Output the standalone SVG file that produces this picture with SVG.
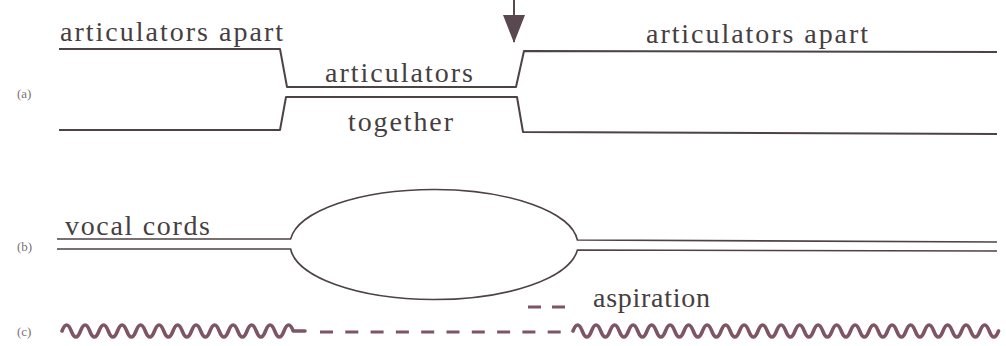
<svg xmlns="http://www.w3.org/2000/svg" width="1006" height="346" viewBox="0 0 1006 346">
  <style>
    .lbl { font-family: "Liberation Serif", "Times New Roman", serif; font-size: 28px; fill: #463e41; }
    .tag { font-family: "Liberation Serif", "Times New Roman", serif; font-size: 13px; fill: #7a7274; }
    .art { fill: none; stroke: #4d4244; stroke-width: 2; stroke-linejoin: round; }
    .cord { fill: none; stroke: #4d4244; stroke-width: 1.6; }
    .wave { fill: none; stroke: #7e5562; stroke-width: 3.6; stroke-linecap: round; stroke-linejoin: round; }
    .dash { fill: none; stroke: #7e5562; stroke-width: 3; }
  </style>
  <defs>
    <marker id="head" viewBox="0 0 28 22" refX="27" refY="11" markerWidth="28" markerHeight="22" markerUnits="userSpaceOnUse" orient="auto">
      <path d="M0,0 L28,11 L0,22 Z" fill="#5a4850"/>
    </marker>
  </defs>
  <rect width="1006" height="346" fill="#ffffff"/>

  <!-- (a) articulators -->
  <g id="panel-a">
    <text class="tag" x="17" y="98">(a)</text>
    <path class="art" d="M59,49 H280 L287,87 H516 L524,51 L997,52"/>
    <path class="art" d="M59,130 H280 L286,97 H517 L523,132 L997,134"/>
    <text class="lbl" x="60" y="41" textLength="223" lengthAdjust="spacing">articulators apart</text>
    <text class="lbl" x="646" y="43" textLength="222" lengthAdjust="spacing">articulators apart</text>
    <text class="lbl" x="325" y="82" textLength="148" lengthAdjust="spacing">articulators</text>
    <text class="lbl" x="348" y="131" textLength="105" lengthAdjust="spacing">together</text>
  </g>

  <!-- release point arrow -->
  <g id="connectors">
    <line x1="514" y1="0" x2="514" y2="42" stroke="#5a4850" stroke-width="2" marker-end="url(#head)"/>
  </g>

  <!-- (b) vocal cords -->
  <g id="panel-b">
    <text class="tag" x="17" y="251">(b)</text>
    <path class="cord" d="M57,239 H290.6 A144,55 0 0 1 577.4,240 L997,242"/>
    <path class="cord" d="M57,249 H290.6 A144,55 0 0 0 577.4,250 L997,251"/>
    <text class="lbl" x="65" y="235" textLength="145" lengthAdjust="spacing">vocal cords</text>
  </g>

  <!-- (c) voicing and aspiration -->
  <g id="panel-c">
    <text class="tag" x="17" y="336">(c)</text>
    <path class="wave" d="M62,331 q4.625,-12 9.25,0 t9.25,0 t9.25,0 t9.25,0 t9.25,0 t9.25,0 t9.25,0 t9.25,0 t9.25,0 t9.25,0 t9.25,0 t9.25,0 t9.25,0 t9.25,0 t9.25,0 t9.25,0 t9.25,0 t9.25,0 t9.25,0 t9.25,0 t9.25,0 t9.25,0 t9.25,0 t9.25,0 t9.25,0 L305,331"/>
    <line class="dash" x1="320" y1="332" x2="561" y2="332" stroke-dasharray="13 12.3"/>
    <path class="wave" d="M573,331 q4.625,-12 9.25,0 t9.25,0 t9.25,0 t9.25,0 t9.25,0 t9.25,0 t9.25,0 t9.25,0 t9.25,0 t9.25,0 t9.25,0 t9.25,0 t9.25,0 t9.25,0 t9.25,0 t9.25,0 t9.25,0 t9.25,0 t9.25,0 t9.25,0 t9.25,0 t9.25,0 t9.25,0 t9.25,0 t9.25,0 t9.25,0 t9.25,0 t9.25,0 t9.25,0 t9.25,0 t9.25,0 t9.25,0 t9.25,0 t9.25,0 t9.25,0 t9.25,0 t9.25,0 t9.25,0 t9.25,0 t9.25,0 t9.25,0 t9.25,0 t9.25,0 t9.25,0 t9.25,0 t9.25,0"/>
    <line class="dash" x1="528" y1="307" x2="565" y2="307" stroke-dasharray="13 11"/>
    <text class="lbl" x="593" y="307" textLength="117" lengthAdjust="spacing">aspiration</text>
  </g>
</svg>
